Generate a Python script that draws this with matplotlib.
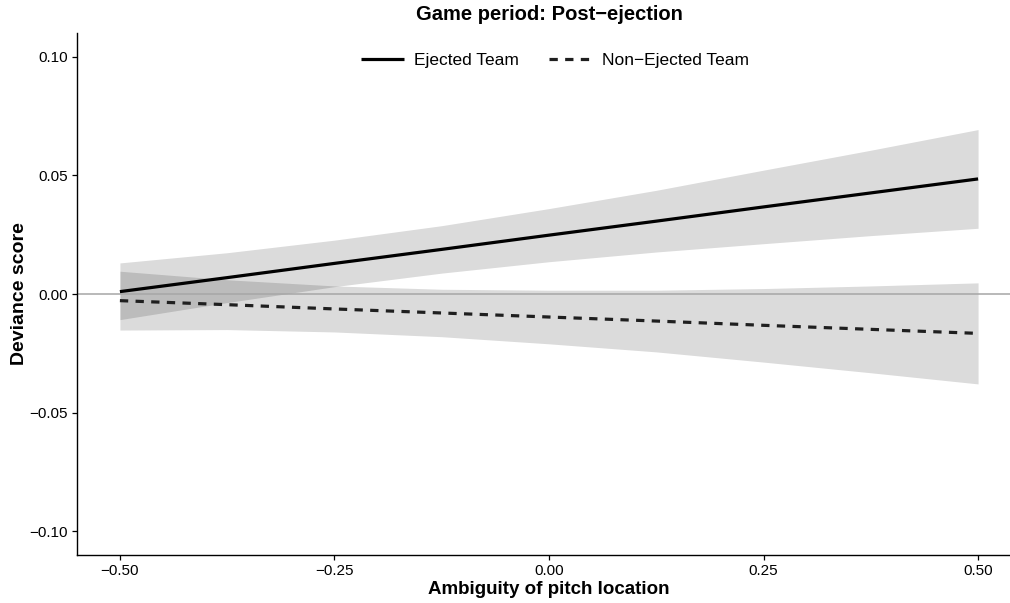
import matplotlib
matplotlib.use("Agg")
import matplotlib.pyplot as plt

plt.rcParams["font.family"] = ["Liberation Sans", "DejaVu Sans"]

x = [-0.5, -0.375, -0.25, -0.125, 0.0, 0.125, 0.25, 0.375, 0.5]

# Ejected team: fitted line and confidence band
ejected = [0.0010, 0.0069, 0.0129, 0.0188, 0.0248, 0.0307, 0.0367, 0.0426, 0.0485]
ejected_hi = [0.0131, 0.0174, 0.0227, 0.0288, 0.0360, 0.0437, 0.0522, 0.0606, 0.0693]
ejected_lo = [-0.0108, -0.0036, 0.0031, 0.0088, 0.0136, 0.0177, 0.0212, 0.0246, 0.0277]

# Non-ejected team
nonejected = [-0.0028, -0.0045, -0.0063, -0.0080, -0.0097, -0.0114, -0.0132, -0.0149, -0.0166]
nonejected_hi = [0.0096, 0.0060, 0.0034, 0.0020, 0.0016, 0.0016, 0.0023, 0.0034, 0.0047]
nonejected_lo = [-0.0152, -0.0150, -0.0160, -0.0180, -0.0210, -0.0244, -0.0287, -0.0332, -0.0379]

xticks = [-0.50, -0.25, 0.00, 0.25, 0.50]
yticks = [-0.10, -0.05, 0.00, 0.05, 0.10]

fig = plt.figure(figsize=(10.1, 6.03), dpi=100)
ax = fig.add_axes([77 / 1010, 48 / 603, 944 / 1010, 522 / 603])

ax.fill_between(x, ejected_lo, ejected_hi, color="black", alpha=0.14, lw=0)
ax.fill_between(x, nonejected_lo, nonejected_hi, color="black", alpha=0.14, lw=0)
ax.axhline(0, color="#a6a6a6", lw=1.1, zorder=2)

ax.plot(x, ejected, color="black", lw=2.3, solid_capstyle="butt",
        label="Ejected Team", zorder=3)
ax.plot(x, nonejected, color="#1f1f1f", lw=2.3, dashes=(2.6, 2.3),
        label="Non\u2212Ejected Team", zorder=3)

ax.set_xlim(-0.55, 0.55)
ax.set_ylim(-0.11, 0.11)
ax.set_xticks(xticks)
ax.set_yticks(yticks)
ax.set_xticklabels([f"{t:.2f}".replace("-", "\u2212") for t in xticks])
ax.set_yticklabels([f"{t:.2f}".replace("-", "\u2212") for t in yticks])
ax.tick_params(length=3.5, width=0.9, labelsize=11, colors="black", pad=3)

for s in ["top", "right"]:
    ax.spines[s].set_visible(False)
for s in ["left", "bottom"]:
    ax.spines[s].set_linewidth(1.0)

ax.set_xlabel("Ambiguity of pitch location", fontsize=13.5, fontweight="bold", labelpad=2)
ax.set_ylabel("Deviance score", fontsize=14, fontweight="bold", labelpad=1)
fig.suptitle("Game period: Post\u2212ejection", x=549 / 1010, y=0.992,
             fontsize=14.5, fontweight="bold", va="top")

ax.legend(loc="center", bbox_to_anchor=(0.506, 0.948), ncol=2, frameon=False,
          fontsize=12.5, handlelength=2.5, handletextpad=0.55, columnspacing=1.75)

fig.savefig("out.png", dpi=100)
